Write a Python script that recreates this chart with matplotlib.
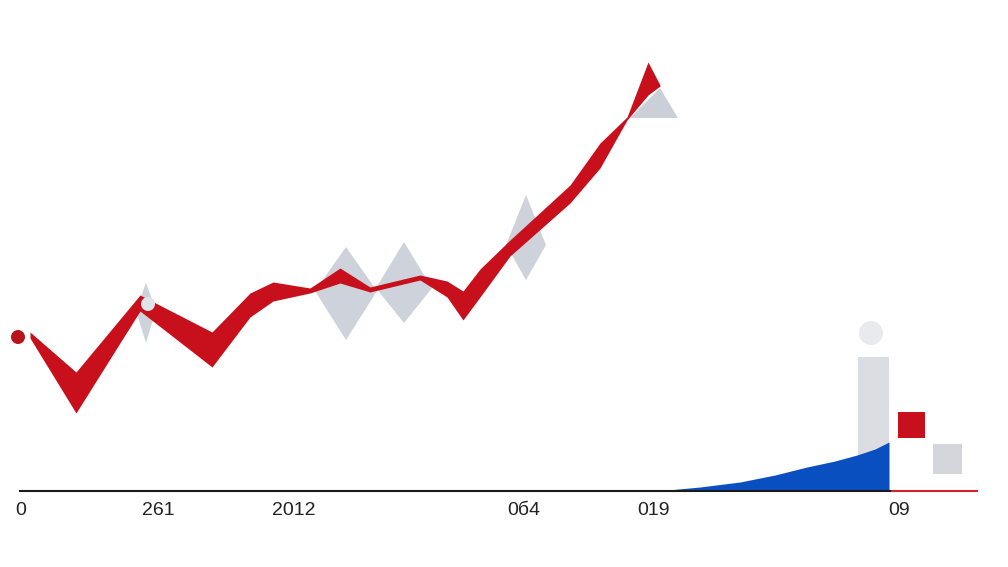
import numpy as np
import matplotlib
matplotlib.use("Agg")
import matplotlib.pyplot as plt
from matplotlib.patches import Polygon, Circle, Rectangle

plt.rcParams['font.family'] = ['Liberation Sans', 'DejaVu Sans']

# red ribbon: x positions with upper / lower edge values (height above baseline)
ribbon_x = [30, 76, 140, 212, 250, 273, 310, 340, 370, 420, 447, 463, 480, 510, 570, 600, 627, 648, 660]
ribbon_top = [159, 119, 196, 159, 198, 209, 203, 223, 204, 216, 210, 200, 222, 251, 306, 348, 374, 429, 406]
ribbon_bot = [153, 78, 180, 124, 174, 190, 198, 208, 199, 211, 194, 171, 194, 235, 288, 323, 371, 396, 405]

# grey diamonds: centre x, mid value, top value, bottom value, half width
dia_x = [146, 346, 404, 526]
dia_mid = [181, 200, 203, 246]
dia_top = [208, 244, 249, 296]
dia_bot = [148, 151, 168, 211]
dia_hw = [10, 31, 28, 20]

# grey triangle near the peak
tri_x = [630, 660, 678]
tri_y = [373, 403, 373]

# blue area on the right
blue_x = [657, 700, 740, 775, 807, 835, 857, 875, 889]
blue_y = [0, 4, 9, 16, 24, 30, 36, 42, 49]

# right-hand blocks
bar_x, bar_w, bar_h = 858, 31, 134
red_sq = (898, 53, 27, 26)
grey_sq = (933, 17, 29, 30)

tick_pos = [21, 158, 294, 524, 654, 899]
tick_labels = ["0", "261", "2012", "0б4", "019", "09"]

RED = "#c8101c"
GREY = "#c6cad4"
BLUE = "#0a4fc0"

fig = plt.figure(figsize=(10.08, 5.67), dpi=100)
ax = fig.add_axes([0, 0, 1, 1])
ax.set_xlim(0, 1008)
ax.set_ylim(-76, 491)

# grey shapes behind the ribbon
for x, m, t, b, w in zip(dia_x, dia_mid, dia_top, dia_bot, dia_hw):
    ax.add_patch(Polygon([[x, t], [x + w, m], [x, b], [x - w, m]],
                         closed=True, fc=GREY, ec="none", alpha=0.85, zorder=1))
ax.add_patch(Polygon(np.column_stack([tri_x, tri_y]), closed=True,
                     fc=GREY, ec="none", alpha=0.9, zorder=1))

ax.fill_between(ribbon_x, ribbon_bot, ribbon_top, color=RED, lw=0, zorder=3)
ax.add_patch(Circle((18, 154), 7, fc="#b8141c", ec="none", zorder=3))
ax.add_patch(Circle((148, 187), 7, fc="#dfe3ea", ec="none", zorder=4))

# right side
ax.bar(bar_x, bar_h, width=bar_w, align="edge", color="#dcdde2", zorder=1)
ax.add_patch(Circle((871, 158), 12, fc="#e9eaed", ec="none", zorder=1))
ax.add_patch(Rectangle(red_sq[:2], red_sq[2], red_sq[3], fc=RED, ec="none", zorder=2))
ax.add_patch(Rectangle(grey_sq[:2], grey_sq[2], grey_sq[3], fc="#d3d5db", ec="none", zorder=2))
ax.fill_between(blue_x, 0, blue_y, color=BLUE, lw=0, zorder=2)
ax.plot([890, 977], [0, 0], color="#d42028", lw=1.5, zorder=3)

# axis
for s in ["top", "right", "left"]:
    ax.spines[s].set_visible(False)
ax.spines["bottom"].set_position(("data", 0))
ax.spines["bottom"].set_bounds(20, 890)
ax.spines["bottom"].set_linewidth(1.5)
ax.spines["bottom"].set_color("#1a1a1a")
ax.spines["bottom"].set_zorder(3)
ax.set_yticks([])
ax.set_xticks(tick_pos, tick_labels)
ax.tick_params(axis="x", length=0, pad=8, labelsize=14, labelcolor="#222222")

fig.savefig("out.png", dpi=100, facecolor="white")
